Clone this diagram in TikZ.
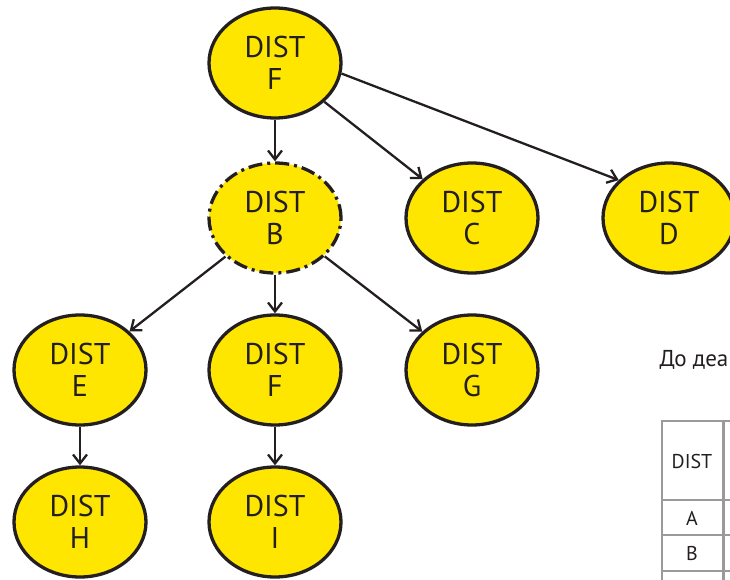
\documentclass[tikz,border=0pt]{standalone}
\usepackage{fontspec}
\setmainfont{PT Sans}
\usetikzlibrary{arrows.meta,shapes.geometric}
\definecolor{distyellow}{HTML}{FFE600}
\definecolor{inkdark}{HTML}{231F20}
\definecolor{gridgrey}{HTML}{9A9A9A}

\begin{document}
\begin{tikzpicture}[x=1pt, y=-1pt,
		dist/.style={shape=ellipse, draw=inkdark, fill=distyellow, line width=3.3pt, inner sep=0pt,
			minimum width=132pt, minimum height=110pt, align=center, text=inkdark,
			font=\fontsize{30}{32}\selectfont},
		link/.style={draw=inkdark, line width=2.3pt, -{Straight Barb[length=9pt, width=14pt, line width=2.3pt]}},
		grid/.style={draw=gridgrey, line width=1.5pt},
		cell/.style={text=inkdark, font=\fontsize{20}{22}\selectfont}]
			\useasboundingbox (0,0) rectangle (730,580);
			\clip (0,0) rectangle (730,580);
			\coordinate (top) at (275, 63);
			\coordinate (mid) at (275, 218);
			\coordinate (right1) at (472, 218);
			\coordinate (right2) at (669, 218);
			\coordinate (left) at (80, 370);
			\coordinate (centre) at (275, 370);
			\coordinate (side) at (472, 370);
			\coordinate (low1) at (80, 522);
			\coordinate (low2) at (275, 522);
			\node [dist] (distF) at (top) {DIST\\F};
			\node [dist, dash pattern=on 14pt off 5pt on 3pt off 5pt] (distB) at (mid) {DIST\\B};
			\node [dist] (distC) at (right1) {DIST\\C};
			\node [dist] (distD) at (right2) {DIST\\D};
			\node [dist] (distE) at (left) {DIST\\E};
			\node [dist] (distF2) at (centre) {DIST\\F};
			\node [dist] (distG) at (side) {DIST\\G};
			\node [dist] (distH) at (low1) {DIST\\H};
			\node [dist] (distI) at (low2) {DIST\\I};
			\draw [link] (distF) -- (distB);
			\draw [link] (distF) -- (distC);
			\draw [link] (distF.-9) -- (distD.143);
			\draw [link] (distB) -- (distE);
			\draw [link] (distB) -- (distF2);
			\draw [link] (distB) -- (distG);
			\draw [link] (distE) -- (distH);
			\draw [link] (distF2) -- (distI);
			% table on the right, cut off by the page edge
			\node [anchor=base west, text=inkdark, font=\fontsize{23}{25}\selectfont] (caption) at (656, 366) {До деа};
			\draw [grid] (662, 590) -- (662, 421) -- (740, 421);
			\draw [grid] (662, 500) -- (740, 500);
			\draw [grid] (662, 535) -- (740, 535);
			\draw [grid] (662, 571) -- (740, 571);
			\draw [grid, line width=3.5pt] (723.5, 421) -- (723.5, 590);
			\node [cell] (headDIST) at (692, 461) {DIST};
			\node [cell] (rowA) at (692, 518) {A};
			\node [cell] (rowB) at (692, 553) {B};
		\end{tikzpicture}
\end{document}
